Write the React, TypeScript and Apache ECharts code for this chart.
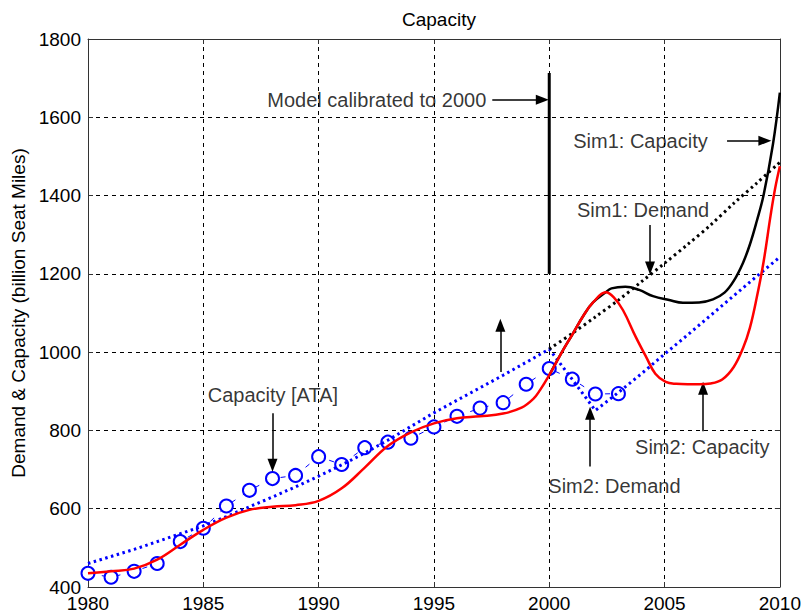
import React, { useEffect, useRef } from "react";
import * as echarts from "echarts";

// Historical capacity (ATA), circles
const ataYears = [1980, 1981, 1982, 1983, 1984, 1985, 1986, 1987, 1988, 1989, 1990, 1991, 1992, 1993, 1994, 1995, 1996, 1997, 1998, 1999, 2000, 2001, 2002, 2003];
const ataValues = [435, 425, 440, 460, 516, 550, 607, 647, 677, 685, 733, 713, 756, 770, 780, 809, 836, 857, 871, 918, 958, 931, 893, 894];

// Demand (history + Sim2 demand), blue dotted
const demandYears = [1980, 1981, 1982, 1983, 1984, 1985, 1986, 1987, 1988, 1989, 1990, 1991, 1992, 1993, 1994, 1995, 1996, 1997, 1998, 1999, 2000, 2001, 2002, 2003, 2004, 2005, 2006, 2007, 2008, 2009, 2010];
const demandValues = [460, 478, 496, 516, 536, 556, 580, 605, 630, 656, 683, 712, 742, 775, 810, 845, 877, 909, 941, 974, 1008, 930, 851, 897, 945, 995, 1044, 1094, 1144, 1194, 1243];

// Sim1 demand, black dotted
const sim1DemandYears = [2000, 2001, 2002, 2003, 2004, 2005, 2006, 2007, 2008, 2009, 2010];
const sim1DemandValues = [1008, 1048, 1090, 1133, 1180, 1227, 1275, 1325, 1380, 1432, 1485];

// Sim2 capacity (incl. calibrated history), red
const sim2CapYears = [1980, 1981, 1982, 1983, 1984, 1985, 1986, 1987, 1988, 1989, 1990, 1991, 1992, 1993, 1994, 1995, 1996, 1997, 1998, 1998.8, 1999.3, 1999.6, 2000, 2000.5, 2001, 2001.5, 2001.9, 2002.45, 2002.8, 2003.2, 2003.75, 2004.2, 2004.6, 2005.05, 2005.5, 2006, 2006.5, 2007, 2007.5, 2008, 2008.4, 2008.7, 2009, 2009.3, 2009.6, 2009.8, 2010];
const sim2CapValues = [435, 440, 447, 470, 508, 546, 577, 597, 605, 609, 620, 652, 705, 760, 795, 818, 831, 836, 843, 858, 880, 903, 941, 995, 1045, 1095, 1127, 1153, 1140, 1107, 1039, 988, 945, 924, 919, 918, 918, 920, 930, 962, 1010, 1062, 1140, 1233, 1350, 1420, 1475];

// Sim1 capacity, black solid
const sim1CapYears = [2000, 2000.5, 2001, 2001.5, 2001.9, 2002.45, 2002.7, 2003.3, 2003.9, 2004.5, 2005.2, 2005.8, 2006.5, 2007.1, 2007.6, 2008, 2008.4, 2008.7, 2009, 2009.3, 2009.7, 2010];
const sim1CapValues = [941, 995, 1045, 1095, 1127, 1153, 1163, 1167, 1159, 1143, 1133, 1126, 1127, 1135, 1152, 1182, 1228, 1275, 1335, 1403, 1531, 1663];

// Calibration marker at 2000
const calibYears = [2000, 2000];
const calibValues = [1200, 1713];

// Axis ticks
const xMin = 1980, xMax = 2010, xStep = 5;
const yMin = 400, yMax = 1800, yStep = 200;

// Annotations (text in data coordinates)
const labelTexts = ["Model calibrated to 2000", "Sim1: Capacity", "Sim1: Demand", "Capacity [ATA]", "Sim2: Demand", "Sim2: Capacity"];
const labelX = [1997.27, 2001.04, 2001.2, 1985.19, 1999.96, 2003.72];
const labelY = [1645, 1540, 1363, 890, 657, 757];
const labelAlign = ["right", "left", "left", "left", "left", "left"];

// Arrows [x1, y1, x2, y2] (tail -> head), data coordinates
const arrows = [
  [1997.53, 1645, 1999.7, 1645],
  [2007.71, 1540, 2009.35, 1540],
  [2004.37, 1325, 2004.37, 1215],
  [1988.0, 844, 1988.0, 711],
  [1997.88, 949, 1997.88, 1069],
  [2001.77, 708, 2001.77, 844],
  [2006.67, 798, 2006.67, 908],
];

const zip = (xs: number[], ys: number[]) => xs.map((x, i) => [x, ys[i]]);
const FONT = "'Liberation Sans', Arial, Helvetica, sans-serif";
const plain = (v: number) => String(v);

export default function App() {
  const ref = useRef<HTMLDivElement>(null);
  useEffect(() => {
    if (!ref.current) return;
    const chart = echarts.init(ref.current, undefined, { renderer: "svg" });
    const axisCommon = {
      axisLine: { show: true, onZero: false, lineStyle: { color: "#333", width: 1 } },
      axisTick: { show: true, inside: true, length: 5, lineStyle: { color: "#333" } },
    };
    chart.setOption({
      animation: false,
      backgroundColor: "#fff",
      textStyle: { fontFamily: FONT },
      title: {
        text: "Capacity",
        left: 397,
        top: 5,
        textStyle: { fontSize: 19, fontWeight: "normal", color: "#000", fontFamily: FONT },
      },
      grid: { left: 88, right: 23, top: 39, bottom: 28, show: false },
      xAxis: [
        {
          type: "value",
          min: xMin,
          max: xMax,
          interval: xStep,
          ...axisCommon,
          axisLabel: { color: "#000", fontSize: 19, margin: 7, fontFamily: FONT, formatter: plain },
          splitLine: { show: true, lineStyle: { color: "#000", type: [4, 4], width: 1 } },
        },
        {
          type: "value",
          position: "top",
          min: xMin,
          max: xMax,
          interval: xStep,
          ...axisCommon,
          axisLabel: { show: false },
          splitLine: { show: false },
        },
      ],
      yAxis: [
        {
          type: "value",
          min: yMin,
          max: yMax,
          interval: yStep,
          ...axisCommon,
          axisLabel: { color: "#000", fontSize: 19, margin: 7, fontFamily: FONT, formatter: plain },
          splitLine: { show: true, lineStyle: { color: "#000", type: [4, 4], width: 1 } },
          name: "Demand & Capacity (billion Seat Miles)",
          nameLocation: "middle",
          nameRotate: 90,
          nameGap: 60,
          nameTextStyle: { color: "#000", fontSize: 19, fontFamily: FONT },
        },
        {
          type: "value",
          position: "right",
          min: yMin,
          max: yMax,
          interval: yStep,
          ...axisCommon,
          axisLabel: { show: false },
          splitLine: { show: false },
        },
      ],
      series: [
        {
          type: "line",
          name: "Capacity [ATA]",
          data: zip(ataYears, ataValues),
          symbol: "emptyCircle",
          symbolSize: 13,
          showAllSymbol: true,
          itemStyle: { color: "#0000ff", borderWidth: 1 },
          lineStyle: { color: "#0000ff", width: 1, type: [5, 9] },
          z: 2,
        },
        {
          type: "line",
          name: "Demand",
          data: zip(demandYears, demandValues),
          symbol: "none",
          lineStyle: { color: "#0000ff", width: 3, type: [2.5, 3.5] },
          z: 3,
        },
        {
          type: "line",
          name: "Sim1: Demand",
          data: zip(sim1DemandYears, sim1DemandValues),
          symbol: "none",
          smooth: 0.3,
          lineStyle: { color: "#000", width: 3, type: [2.5, 3.5] },
          z: 3,
        },
        {
          type: "line",
          name: "Sim1: Capacity",
          data: zip(sim1CapYears, sim1CapValues),
          symbol: "none",
          smooth: 0.4,
          lineStyle: { color: "#000", width: 2.5 },
          z: 4,
        },
        {
          type: "line",
          name: "Sim2: Capacity",
          data: zip(sim2CapYears, sim2CapValues),
          symbol: "none",
          smooth: 0.4,
          lineStyle: { color: "#ff0000", width: 2.5 },
          z: 5,
        },
        {
          type: "line",
          name: "Calibration",
          data: zip(calibYears, calibValues),
          symbol: "none",
          lineStyle: { color: "#000", width: 3 },
          z: 6,
        },
        {
          type: "line",
          name: "arrows",
          data: [],
          symbol: "none",
          z: 7,
          markLine: {
            silent: true,
            animation: false,
            symbol: ["none", "triangle"],
            symbolSize: [10, 13],
            label: { show: false },
            lineStyle: { color: "#000", width: 1.5, type: "solid" },
            emphasis: { disabled: true },
            data: arrows.map((a) => [{ coord: [a[0], a[1]] }, { coord: [a[2], a[3]] }]),
          },
        },
        {
          type: "scatter",
          name: "labels",
          symbolSize: 0,
          silent: true,
          z: 8,
          data: labelTexts.map((t, i) => ({
            value: [labelX[i], labelY[i]],
            label: {
              show: true,
              formatter: t,
              position: [0, 0],
              align: labelAlign[i],
              verticalAlign: "middle",
              fontSize: 20,
              color: "#000",
              fontFamily: FONT,
            },
          })),
        },
      ],
    });
    return () => chart.dispose();
  }, []);
  return (
    <div
      ref={ref}
      style={{ position: "absolute", left: 0, top: 0, width: 804, height: 615, background: "#fff" }}
    />
  );
}
